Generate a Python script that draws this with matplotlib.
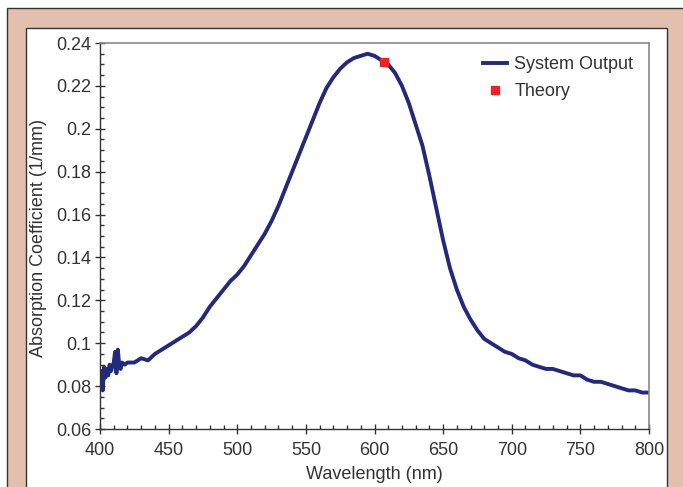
import matplotlib.pyplot as plt
from matplotlib.patches import Rectangle
from matplotlib.ticker import MultipleLocator

plt.rcParams['font.family'] = ['Liberation Sans', 'DejaVu Sans']

wavelength = [400, 401, 402, 403, 404, 405, 406, 407, 408, 409, 410, 411, 412, 413,
              414, 415, 416, 418, 420, 425, 430, 435, 440, 445, 450, 455, 460, 465,
              470, 475, 480, 485, 490, 495, 500, 505, 510, 515, 520, 525, 530, 535,
              540, 545, 550, 555, 560, 565, 570, 575, 580, 585, 590, 595, 600, 605,
              610, 615, 620, 625, 630, 635, 640, 645, 650, 655, 660, 665, 670, 675,
              680, 685, 690, 695, 700, 705, 710, 715, 720, 725, 730, 735, 740, 745,
              750, 755, 760, 765, 770, 775, 780, 785, 790, 795, 800]
absorption = [0.080, 0.087, 0.078, 0.089, 0.084, 0.088, 0.085, 0.090, 0.087, 0.089,
              0.091, 0.096, 0.086, 0.097, 0.090, 0.088, 0.091, 0.090, 0.091, 0.091,
              0.093, 0.092, 0.095, 0.097, 0.099, 0.101, 0.103, 0.105, 0.108, 0.112,
              0.117, 0.121, 0.125, 0.129, 0.132, 0.136, 0.141, 0.146, 0.151, 0.157,
              0.164, 0.172, 0.180, 0.188, 0.196, 0.204, 0.212, 0.219, 0.224, 0.228,
              0.231, 0.233, 0.234, 0.235, 0.234, 0.232, 0.230, 0.226, 0.220, 0.212,
              0.202, 0.192, 0.178, 0.163, 0.148, 0.135, 0.125, 0.117, 0.111, 0.106,
              0.102, 0.100, 0.098, 0.096, 0.095, 0.093, 0.092, 0.090, 0.089, 0.088,
              0.088, 0.087, 0.086, 0.085, 0.085, 0.083, 0.082, 0.082, 0.081, 0.080,
              0.079, 0.078, 0.078, 0.077, 0.077]

theory_wl = [607]
theory_abs = [0.231]

W, H = 683, 487
fig = plt.figure(figsize=(W / 100, H / 100), dpi=100)

# peach frame and white inner panel
fig.patches.append(Rectangle((7 / W, -0.1), 1.2, (H - 8) / H + 0.1, transform=fig.transFigure,
                             facecolor='#e2bfae', edgecolor='#333333', lw=1.0, zorder=-10))
fig.patches.append(Rectangle((26 / W, -0.1), (667 - 26) / W, (H - 28) / H + 0.1,
                             transform=fig.transFigure, facecolor='white',
                             edgecolor='#333333', lw=1.0, zorder=-9))

ax = fig.add_axes([100 / W, 58 / H, 549 / W, 386 / H])
ax.set_facecolor('none')
ax.set_zorder(5)

ax.plot(wavelength, absorption, color='#232a7a', lw=2.8, label='System Output')
ax.plot(theory_wl, theory_abs, 's', color='#ee2222', ms=6, label='Theory')

ax.set_xlim(400, 800)
ax.set_ylim(0.06, 0.24)
ax.xaxis.set_major_locator(MultipleLocator(50))
ax.xaxis.set_minor_locator(MultipleLocator(10))
ax.yaxis.set_minor_locator(MultipleLocator(0.005))
ax.set_yticks([0.06, 0.08, 0.1, 0.12, 0.14, 0.16, 0.18, 0.2, 0.22, 0.24])
ax.set_yticklabels(['0.06', '0.08', '0.1', '0.12', '0.14', '0.16', '0.18', '0.2', '0.22', '0.24'])

ax.tick_params(which='major', direction='inout', length=6.5, width=1.0,
               color='#333333', labelsize=13, labelcolor='#333333')
ax.tick_params(which='minor', direction='in', length=3, width=1.0, color='#333333')
ax.tick_params(axis='x', which='major', pad=6)
ax.tick_params(axis='y', which='major', pad=3)

for side in ['left', 'bottom']:
    ax.spines[side].set_color('#333333')
    ax.spines[side].set_linewidth(1.0)
for side in ['top', 'right']:
    ax.spines[side].set_color('#888888')
    ax.spines[side].set_linewidth(1.2)

ax.set_xlabel('Wavelength (nm)', fontsize=13, color='#333333', labelpad=5)
ax.set_ylabel('Absorption Coefficient (1/mm)', fontsize=13, color='#333333')
ax.yaxis.set_label_coords(-0.0965, 0.495)

ax.legend(loc='upper right', bbox_to_anchor=(1.004, 1.012), frameon=False, fontsize=13,
          handlelength=1.3, handletextpad=0.4, labelspacing=0.55, borderaxespad=0.6,
          labelcolor='#333333')

fig.savefig('out.png', dpi=100)
